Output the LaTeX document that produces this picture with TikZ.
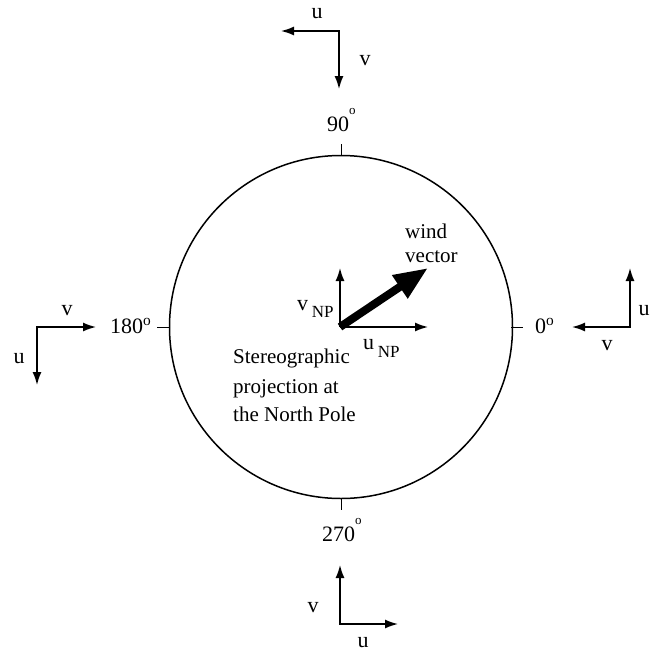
\documentclass[tikz,border=0pt]{standalone}
\usepackage{fontspec}
\setmainfont{Liberation Serif}
\usetikzlibrary{positioning,arrows.meta}

\newcommand{\highdeg}{\raisebox{17pt}{\fontsize{13}{14}\selectfont o}}

\begin{document}
\begin{tikzpicture}[x=1pt,y=-1pt,
    comp/.style={line width=1.5pt,{Latex[length=13pt,width=9pt]}-{Latex[length=13pt,width=9pt]}},
    axis/.style={line width=1.5pt,-{Latex[length=13pt,width=9pt]}},
    windvec/.style={line width=8pt,-{Triangle[length=34pt,width=26pt]}},
    lbl/.style={font=\fontsize{22}{24}\selectfont,inner sep=0pt,anchor=base},
    deg/.style={font=\fontsize{22}{24}\selectfont,inner sep=0pt,anchor=base west},
    note/.style={font=\fontsize{21}{28}\selectfont,inner sep=0pt,align=left,anchor=base west}
]
    \useasboundingbox (0,0) rectangle (649,651);

    % polar stereographic disc
    \node[circle,draw,line width=1.5pt,minimum size=343pt,inner sep=0pt] (disc) at (341,327) {};
    \draw[line width=1pt] (disc.north) -- ++(0,-11);
    \draw[line width=1pt] (disc.south) -- ++(0,11);
    \draw[line width=1pt] (disc.west) -- ++(-12,0);
    \draw[line width=1pt] ([xshift=-2pt]disc.east) -- ++(12,0);

    \node[deg] (d90) at (327,131) {90\highdeg};
    \node[deg] (d180) at (110,333) {180\textsuperscript{o}};
    \node[deg] (d0) at (535,333) {0\textsuperscript{o}};
    \node[deg] (d270) at (322,541) {270\highdeg};

    % u,v at 90
    \coordinate (tc) at (339,31);
    \coordinate (tu) at (281,31);
    \coordinate (tv) at (339,89);
    \draw[comp] (tu) -- (tc) -- (tv);
    \node[lbl] (tul) at (317,18) {u};
    \node[lbl] (tvl) at (365,65) {v};

    % u,v at 180
    \coordinate (lc) at (37,327);
    \coordinate (lv) at (96,327);
    \coordinate (lu) at (37,385);
    \draw[comp] (lv) -- (lc) -- (lu);
    \node[lbl] (lvl) at (67,315) {v};
    \node[lbl] (lul) at (19,363) {u};

    % u,v at 0
    \coordinate (rc) at (630,327);
    \coordinate (rv) at (572,327);
    \coordinate (ru) at (630,268);
    \draw[comp] (rv) -- (rc) -- (ru);
    \node[lbl] (rul) at (644,315) {u};
    \node[lbl] (rvl) at (607,350) {v};

    % u,v at 270
    \coordinate (bc) at (340,624);
    \coordinate (bv) at (340,565);
    \coordinate (bu) at (398,624);
    \draw[comp] (bv) -- (bc) -- (bu);
    \node[lbl] (bvl) at (313,612) {v};
    \node[lbl] (bul) at (363,647) {u};

    % pole components and wind
    \coordinate (pole) at (340,327);
    \coordinate (vnp) at (340,268);
    \coordinate (unp) at (428,327);
    \coordinate (tip) at (428,268);
    \draw[axis] (pole) -- (vnp);
    \draw[axis] (pole) -- (unp);
    \draw[windvec] (pole) -- (tip);
    \node[deg] (vnpl) at (297,310) {v\,\raisebox{-7pt}{\fontsize{17}{18}\selectfont NP}};
    \node[deg] (unpl) at (363,349) {u\,\raisebox{-8pt}{\fontsize{17}{18}\selectfont NP}};
    \node[note] (windl) at (405,262) {wind\\[-4pt]vector};

    \node[note] (caption) at (233,421) {Stereographic\\[2pt]projection at\\the North Pole};
\end{tikzpicture}
\end{document}
